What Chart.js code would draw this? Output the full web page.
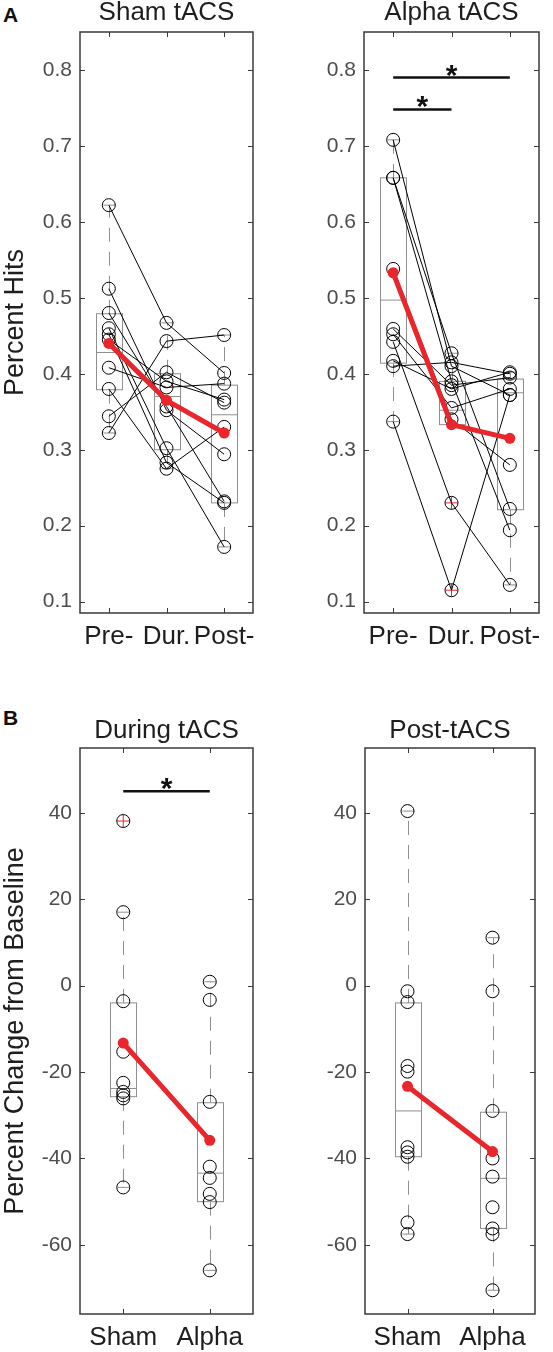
<!DOCTYPE html>
<html lang="en">
<head>
<meta charset="UTF-8">
<title>tACS: percent hits and change from baseline</title>
<script src="https://cdn.jsdelivr.net/npm/chart.js"></script>
<style>
  body { margin: 0; background: #fff; font-family: "Liberation Sans", Arial, sans-serif; }
  .wrap { position: relative; width: 553px; height: 1352px; overflow: hidden; }
  canvas { position: absolute; }
  .letter { position: absolute; left: 3px; font-weight: bold; font-size: 21px; line-height: 1; color: #111; }
</style>
</head>
<body>
<div class="wrap">
  <div class="letter" style="top:4px">A</div>
  <div class="letter" style="top:707px">B</div>
  <canvas id="shamA" width="270" height="660" style="left:0;top:0"></canvas>
  <canvas id="alphaA" width="283" height="660" style="left:270px;top:0"></canvas>
  <canvas id="duringB" width="270" height="692" style="left:0;top:660px"></canvas>
  <canvas id="postB" width="283" height="692" style="left:270px;top:660px"></canvas>
</div>

<script>
// ---- data ----
const phases = ['Pre-', 'Dur.', 'Post-'];
const groups = ['Sham', 'Alpha'];
const hitTicks = [0.1, 0.2, 0.3, 0.4, 0.5, 0.6, 0.7, 0.8];
const changeTicks = [-60, -40, -20, 0, 20, 40];

// panel A, one entry per subject
const shamPre  = [0.622, 0.512, 0.480, 0.460, 0.452, 0.445, 0.408, 0.380, 0.344, 0.322];
const shamDur  = [0.467, 0.352, 0.357, 0.302, 0.283, 0.390, 0.382, 0.275, 0.402, 0.443];
const shamPost = [0.401, 0.294, 0.232, 0.172, 0.230, 0.366, 0.387, 0.330, 0.362, 0.451];
const shamMean = [0.440, 0.365, 0.322];

const alphaPre  = [0.708, 0.658, 0.658, 0.538, 0.459, 0.452, 0.442, 0.417, 0.410, 0.337];
const alphaDur  = [0.410, 0.427, 0.390, 0.340, 0.385, 0.355, 0.230, 0.380, 0.415, 0.115];
const alphaPost = [0.372, 0.222, 0.194, 0.280, 0.395, 0.380, 0.122, 0.402, 0.400, 0.372];
const alphaMean = [0.533, 0.333, 0.315];

// box plot summaries (per phase / group)
const shamQ1 = [0.379, 0.300, 0.230], shamMed = [0.428, 0.370, 0.346], shamQ3 = [0.479, 0.400, 0.385];
const shamLo = [0.322, 0.275, 0.172], shamHi = [0.622, 0.467, 0.451];
const alphaQ1 = [0.414, 0.333, 0.221], alphaMed = [0.497, 0.352, 0.375], alphaQ3 = [0.658, 0.390, 0.393];
const alphaLo = [0.337, 0.333, 0.122], alphaHi = [0.708, 0.427, 0.402];
const alphaOutX = [1, 1], alphaOutY = [0.230, 0.115];
const alphaSigFrom = [0, 0], alphaSigTo = [1, 2], alphaSigY = [0.748, 0.790];

// panel B, percent change from baseline
const duringSham  = [38.1, 17.0, -3.6, -15.3, -22.5, -24.6, -25.4, -26.1, -46.7];
const duringAlpha = [0.9, -3.3, -26.9, -41.9, -44.5, -48.2, -50.1, -65.9];
const duringMean  = [-13.3, -35.8];
const duringQ1 = [-25.7, -50.0], duringMed = [-23.8, -43.4], duringQ3 = [-4.0, -27.1];
const duringLo = [-46.7, -65.9], duringHi = [17.0, 0.9];
const duringOutX = [0], duringOutY = [38.1];
const duringSigFrom = [0], duringSigTo = [1], duringSigY = [45];

const postSham  = [40.4, -1.3, -3.8, -18.6, -19.9, -37.4, -38.6, -39.6, -54.8, -57.5];
const postAlpha = [11.1, -1.3, -29.0, -40.0, -44.2, -51.3, -56.2, -57.5, -70.5];
const postMean  = [-23.3, -38.4];
const postQ1 = [-39.6, -56.2], postMed = [-29.0, -44.6], postQ3 = [-4.0, -29.3];
const postLo = [-57.5, -70.5], postHi = [40.4, 11.1];

// ---- styles ----
const RED = '#e8262b';
const BOX_GREY = '#8f8f8f';
const AXIS = '#3a3a3a';
const BOX_W = 26, CAP_W = 12, TICK_LEN = 5;

Chart.defaults.font.family = '"Liberation Sans", Arial, sans-serif';

function hline(ctx, x1, x2, y) { ctx.beginPath(); ctx.moveTo(x1, y); ctx.lineTo(x2, y); ctx.stroke(); }
function vline(ctx, x, y1, y2) { ctx.beginPath(); ctx.moveTo(x, y1); ctx.lineTo(x, y2); ctx.stroke(); }

// box, whiskers, caps, outliers drawn with the chart's scales
const boxPlugin = {
  id: 'boxes',
  beforeDatasetsDraw(chart, args, o) {
    if (!o || !o.q1) return;
    const {ctx} = chart, x = chart.scales.x, y = chart.scales.y;
    ctx.save();
    ctx.lineWidth = 1;
    ctx.strokeStyle = BOX_GREY;
    o.q1.forEach((q1, i) => {
      const cx = Math.round(x.getPixelForValue(i)) + 0.5;
      const y1 = y.getPixelForValue(q1), y3 = y.getPixelForValue(o.q3[i]);
      const ym = y.getPixelForValue(o.med[i]);
      const ylo = y.getPixelForValue(o.lo[i]), yhi = y.getPixelForValue(o.hi[i]);
      ctx.setLineDash([14, 10]);
      if (ylo > y1 + 1) vline(ctx, cx, y1, ylo);
      if (yhi < y3 - 1) vline(ctx, cx, y3, yhi);
      ctx.setLineDash([]);
      ctx.strokeRect(cx - BOX_W / 2, y3, BOX_W, y1 - y3);
      hline(ctx, cx - BOX_W / 2, cx + BOX_W / 2, ym);
      hline(ctx, cx - CAP_W / 2, cx + CAP_W / 2, ylo);
      hline(ctx, cx - CAP_W / 2, cx + CAP_W / 2, yhi);
    });
    ctx.strokeStyle = RED;
    (o.outX || []).forEach((ox, i) => {
      const px = x.getPixelForValue(ox), py = y.getPixelForValue(o.outY[i]);
      hline(ctx, px - 6, px + 6, py);
      vline(ctx, px, py - 6, py + 6);
    });
    ctx.restore();
  }
};

// matlab style box with inward ticks, plus significance stars
const framePlugin = {
  id: 'frame',
  afterDatasetsDraw(chart, args, o) {
    const {ctx, chartArea: a} = chart, x = chart.scales.x, y = chart.scales.y;
    ctx.save();
    ctx.strokeStyle = AXIS;
    ctx.lineWidth = 1.5;
    ctx.strokeRect(a.left, a.top, a.right - a.left, a.bottom - a.top);
    ctx.lineWidth = 1;
    y.ticks.forEach(t => {
      const py = Math.round(y.getPixelForValue(t.value)) + 0.5;
      hline(ctx, a.left, a.left + TICK_LEN, py);
      hline(ctx, a.right - TICK_LEN, a.right, py);
    });
    x.ticks.forEach((t, i) => {
      const px = Math.round(x.getPixelForValue(i)) + 0.5;
      vline(ctx, px, a.top, a.top + TICK_LEN);
      vline(ctx, px, a.bottom - TICK_LEN, a.bottom);
    });
    if (o && o.from) {
      ctx.fillStyle = '#111';
      ctx.font = 'bold 30px "Liberation Sans", Arial, sans-serif';
      ctx.textAlign = 'center';
      ctx.textBaseline = 'alphabetic';
      o.from.forEach((f, i) => {
        const mx = (x.getPixelForValue(f) + x.getPixelForValue(o.to[i])) / 2;
        ctx.fillText('*', mx, y.getPixelForValue(o.y[i]) + 7);
      });
    }
    ctx.restore();
  }
};

function subjectLines(pre, dur, post) {
  return pre.map((v, i) => ({
    data: [v, dur[i], post[i]],
    borderColor: '#000', borderWidth: 1,
    pointRadius: 6.5, pointBorderColor: '#000', pointBorderWidth: 1,
    pointBackgroundColor: 'rgba(0,0,0,0)', order: 2
  }));
}

function groupPoints(sham, alpha) {
  const pts = sham.map(v => ({x: groups[0], y: v})).concat(alpha.map(v => ({x: groups[1], y: v})));
  return {
    data: pts, showLine: false,
    pointRadius: 6.5, pointBorderColor: '#000', pointBorderWidth: 1,
    pointBackgroundColor: 'rgba(0,0,0,0)', order: 2
  };
}

function meanLine(vals) {
  return {
    data: vals, borderColor: RED, borderWidth: 5,
    pointRadius: 5.5, pointBackgroundColor: RED, pointBorderColor: RED, pointBorderWidth: 0, order: 0
  };
}

function sigBars(labels, from, to, ys) {
  return from.map((f, i) => ({
    data: [{x: labels[f], y: ys[i]}, {x: labels[to[i]], y: ys[i]}],
    borderColor: '#111', borderWidth: 2.5, pointRadius: 0, order: 1
  }));
}

function makeChart(id, cfg) {
  return new Chart(document.getElementById(id), {
    type: 'line',
    data: {labels: cfg.labels, datasets: cfg.datasets},
    options: {
      responsive: false,
      animation: false,
      devicePixelRatio: 1,
      layout: {padding: {top: cfg.padTop, right: cfg.padRight, left: 0, bottom: 0}},
      plugins: {
        legend: {display: false},
        tooltip: {enabled: false},
        title: {
          display: true, text: cfg.title, fullSize: false, color: '#1e1e1e',
          font: {size: 26, weight: 'normal', lineHeight: 1},
          padding: {top: 0, bottom: cfg.titleGap}
        },
        boxes: cfg.boxes,
        frame: cfg.sig || {}
      },
      scales: {
        x: {
          type: 'category', offset: true,
          grid: {display: false, drawTicks: false}, border: {display: false},
          ticks: {font: {size: 26}, color: '#1e1e1e', padding: 8, maxRotation: 0, autoSkip: false},
          afterFit: s => { s.height = cfg.xHeight; }
        },
        y: {
          type: 'linear', min: cfg.yMin, max: cfg.yMax,
          grid: {display: false, drawTicks: false}, border: {display: false},
          afterBuildTicks: s => { s.ticks = cfg.yTicks.map(v => ({value: v})); },
          ticks: {font: {size: 21}, color: '#4d4d4d', padding: 8, callback: cfg.fmt},
          title: {
            display: !!cfg.yTitle, text: cfg.yTitle || '', color: '#1e1e1e',
            font: {size: 27, lineHeight: 1}, padding: {top: 2, bottom: 0}
          },
          afterFit: s => { s.width = cfg.yWidth; }
        }
      }
    },
    plugins: [boxPlugin, framePlugin]
  });
}

const fmtHits = v => v.toFixed(1);
const fmtChange = v => String(v);

makeChart('shamA', {
  labels: phases, title: 'Sham tACS', yTitle: 'Percent Hits',
  padTop: 0, titleGap: 6, padRight: 17, yWidth: 80, xHeight: 47,
  yMin: 0.085, yMax: 0.85, yTicks: hitTicks, fmt: fmtHits,
  boxes: {q1: shamQ1, med: shamMed, q3: shamQ3, lo: shamLo, hi: shamHi},
  datasets: [meanLine(shamMean)].concat(subjectLines(shamPre, shamDur, shamPost))
});

makeChart('alphaA', {
  labels: phases, title: 'Alpha tACS',
  padTop: 0, titleGap: 6, padRight: 14, yWidth: 94, xHeight: 47,
  yMin: 0.085, yMax: 0.85, yTicks: hitTicks, fmt: fmtHits,
  boxes: {q1: alphaQ1, med: alphaMed, q3: alphaQ3, lo: alphaLo, hi: alphaHi, outX: alphaOutX, outY: alphaOutY},
  sig: {from: alphaSigFrom, to: alphaSigTo, y: alphaSigY},
  datasets: [meanLine(alphaMean)]
    .concat(sigBars(phases, alphaSigFrom, alphaSigTo, alphaSigY))
    .concat(subjectLines(alphaPre, alphaDur, alphaPost))
});

makeChart('duringB', {
  labels: groups, title: 'During tACS', yTitle: 'Percent Change from Baseline',
  padTop: 58, titleGap: 4, padRight: 17, yWidth: 80, xHeight: 38,
  yMin: -76, yMax: 55, yTicks: changeTicks, fmt: fmtChange,
  boxes: {q1: duringQ1, med: duringMed, q3: duringQ3, lo: duringLo, hi: duringHi, outX: duringOutX, outY: duringOutY},
  sig: {from: duringSigFrom, to: duringSigTo, y: duringSigY},
  datasets: [meanLine(duringMean)]
    .concat(sigBars(groups, duringSigFrom, duringSigTo, duringSigY))
    .concat([groupPoints(duringSham, duringAlpha)])
});

makeChart('postB', {
  labels: groups, title: 'Post-tACS',
  padTop: 58, titleGap: 4, padRight: 18, yWidth: 95, xHeight: 38,
  yMin: -76, yMax: 55, yTicks: changeTicks, fmt: fmtChange,
  boxes: {q1: postQ1, med: postMed, q3: postQ3, lo: postLo, hi: postHi},
  datasets: [meanLine(postMean), groupPoints(postSham, postAlpha)]
});
</script>
</body>
</html>
